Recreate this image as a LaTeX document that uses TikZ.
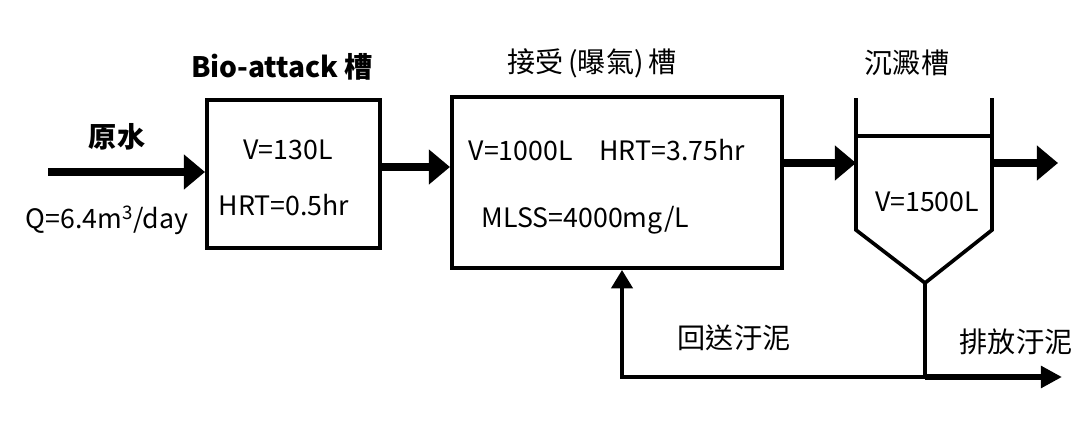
\documentclass[tikz,border=0pt]{standalone}
\usepackage{fontspec}
\setmainfont{Noto Sans CJK TC}
\usetikzlibrary{arrows.meta}

\tikzset{
  flow/.style={line width=5pt,-{Triangle[length=15pt,width=24pt]}},
  tank/.style={draw,line width=2.8pt,inner sep=0pt},
  pipe/.style={line width=2.6pt},
  lbl/.style={font=\fontsize{19}{21}\selectfont,inner sep=1pt},
  hdr/.style={font=\fontsize{20}{22}\selectfont,inner sep=1pt}
}

\begin{document}
\begin{tikzpicture}[x=0.025cm,y=-0.025cm]
    \useasboundingbox (0,0) rectangle (1076,420);

    % tanks
    \node[tank,minimum width=4.325cm,minimum height=3.7cm] (bio) at (293.5,174) {};
    \node[tank,minimum width=8.25cm,minimum height=4.275cm] (aer) at (617,182.5) {};

    \coordinate (S1) at (856,98);
    \coordinate (S2) at (856,230);
    \coordinate (apex) at (925,283);
    \coordinate (S3) at (992,230);
    \coordinate (S4) at (992,98);
    \coordinate (jn) at (925,377);
    \coordinate (ret) at (622,377);
    \coordinate (src) at (48,172);
    \coordinate (sin) at (856,163);
    \coordinate (sout) at (992,163);
    \coordinate (eff) at (1058,163);
    \coordinate (waste) at (1062,377);
    \coordinate (lvl) at (0,167);

    \draw[pipe,line join=miter] (S1) -- (S2) -- (apex) -- (S3) -- (S4);
    \draw[pipe] (S1|-0,136) -- (S4|-0,136);

    % labels
    \node[lbl,font=\fontsize{20}{22}\selectfont\bfseries] (raw) at (117,137) {原水};
    \node[lbl] (q) at (107,220) {Q=6.4m\textsuperscript{3}/day};
    \node[hdr,font=\fontsize{20}{22}\selectfont\bfseries] (bioname) at (282,67) {Bio-attack 槽};
    \node[lbl] (bv) at (288,150) {V=130L};
    \node[lbl] (bh) at (284,205) {HRT=0.5hr};

    \node[hdr] (aername) at (592,63) {接受\,(曝氣)\,槽};
    \node[lbl,anchor=west] (av) at (467,150) {V=1000L\quad HRT=3.75hr};
    \node[lbl,anchor=west] (am) at (480,220) {MLSS=4000mg/L};

    \node[hdr] (setname) at (907,63) {沉澱槽};
    \node[lbl] (sv) at (927,202) {V=1500L};

    \node[hdr] (retname) at (734,338) {回送汙泥};
    \node[hdr] (wastename) at (1016,342) {排放汙泥};

    % flows
    \draw[flow] (src) -- (src-|bio.west);
    \draw[flow] (bio.east|-lvl) -- (aer.west|-lvl);
    \draw[flow] (aer.east|-sin) -- (sin);
    \draw[flow] (sout) -- (eff);

    \draw[pipe] (apex) -- (jn);
    \draw[pipe,line join=miter,-{Triangle[length=13pt,width=15pt]}] (jn) -- (ret) -- (ret|-aer.south);
    \draw[line width=4.5pt,-{Triangle[length=15pt,width=15pt]}] (jn) -- (waste);
\end{tikzpicture}
\end{document}
